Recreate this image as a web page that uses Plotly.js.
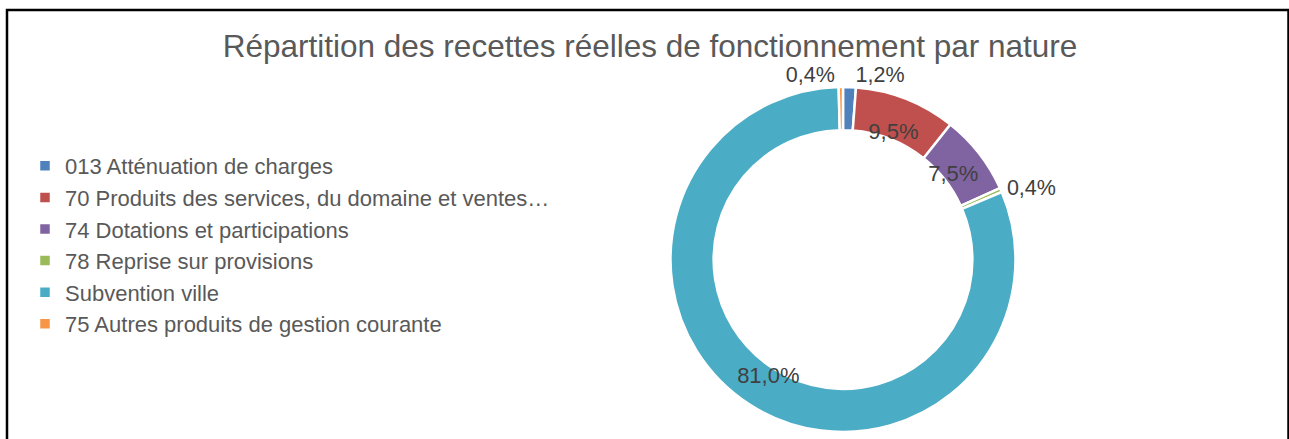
<!DOCTYPE html>
<html>
<head>
<meta charset="utf-8">
<script src="https://cdn.plot.ly/plotly-3.0.1.min.js"></script>
<style>html,body{margin:0;padding:0;background:#fff;}#chart{width:1289px;height:439px;}</style>
</head>
<body>
<div id="chart"></div>
<script>
const categories = [
  "013 Atténuation de charges",
  "70 Produits des services, du domaine et ventes…",
  "74 Dotations et participations",
  "78 Reprise sur provisions",
  "Subvention ville",
  "75 Autres produits de gestion courante"
];
const shares = [1.2, 9.5, 7.5, 0.4, 81.0, 0.4];
const colors = ["#4F81BD", "#C0504D", "#8064A2", "#9BBB59", "#4BACC6", "#F79646"];
const outsideLabel = [true, false, false, true, false, true];
const titleText = "Répartition des recettes réelles de fonctionnement par nature";

const W = 1289, H = 439;
const FONT = "Liberation Sans, Arial, sans-serif";
const dom = { x: [670 / W, 1016 / W], y: [7 / H, 352 / H] };
const pct = "%{percent:.1%}";

// ring with outside labels for the small slices
const ring = {
  type: "pie",
  labels: categories,
  values: shares,
  sort: false,
  direction: "clockwise",
  rotation: 0,
  hole: 0.75,
  marker: { colors: colors, line: { color: "#ffffff", width: 2.5 } },
  texttemplate: outsideLabel.map(o => o ? pct : ""),
  textposition: "outside",
  outsidetextfont: { family: FONT, size: 21.5, color: "#404040" },
  domain: dom,
  hoverinfo: "label+percent"
};
// transparent overlay carrying the inside labels (more room so they are not shrunk)
const labelsLayer = {
  type: "pie",
  labels: categories,
  values: shares,
  sort: false,
  direction: "clockwise",
  rotation: 0,
  hole: 0.6,
  showlegend: false,
  marker: { colors: colors.map(() => "rgba(0,0,0,0)"), line: { width: 0 } },
  texttemplate: outsideLabel.map(o => o ? "" : pct),
  textposition: "inside",
  insidetextorientation: "horizontal",
  insidetextfont: { family: FONT, size: 22, color: "#404040" },
  domain: dom,
  hoverinfo: "skip"
};
const layout = {
  width: W, height: H,
  margin: { l: 0, r: 0, t: 0, b: 0 },
  paper_bgcolor: "#ffffff",
  separators: ", ",
  font: { family: FONT, color: "#595959" },
  title: {
    text: titleText,
    font: { family: FONT, size: 31.5, color: "#595959" },
    x: 650 / W, xanchor: "center", xref: "paper",
    y: 1 - 46 / H, yanchor: "middle", yref: "paper"
  },
  showlegend: true,
  legend: {
    x: 25 / W, xanchor: "left",
    y: 1 - 145 / H, yanchor: "top",
    font: { family: FONT, size: 22, color: "#595959" },
    traceorder: "normal",
    bgcolor: "rgba(0,0,0,0)"
  },
  shapes: [
    { type: "rect", xref: "paper", yref: "paper",
      x0: 7 / W, x1: 1288.5 / W, y0: -0.05, y1: 1 - 10 / H,
      line: { color: "#000000", width: 2.5 }, fillcolor: "rgba(0,0,0,0)" }
  ]
};
Plotly.newPlot("chart", [ring, labelsLayer], layout, { staticPlot: true, displayModeBar: false });
</script>
</body>
</html>
